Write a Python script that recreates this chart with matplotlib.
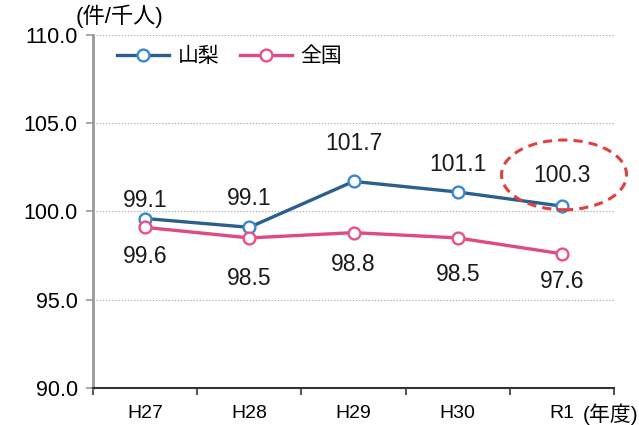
import matplotlib
matplotlib.use("Agg")
import matplotlib.pyplot as plt
from matplotlib.patches import Ellipse
import numpy as np

plt.rcParams['font.family'] = ['Liberation Sans', 'Noto Sans CJK JP', 'DejaVu Sans']

categories = ["H27", "H28", "H29", "H30", "R1"]
yamanashi = [99.6, 99.1, 101.7, 101.1, 100.3]
zenkoku = [99.1, 98.5, 98.8, 98.5, 97.6]
yamanashi_labels = ["99.1", "99.1", "101.7", "101.1", "100.3"]
zenkoku_labels = ["99.6", "98.5", "98.8", "98.5", "97.6"]
yticks = [90.0, 95.0, 100.0, 105.0, 110.0]

# label offsets in points (style)
y_off = [13, 21, 27, 20, 22]
z_off = [-21, -29, -23, -26, -20]

fig = plt.figure(figsize=(6.39, 4.25), dpi=100)
ax = fig.add_axes([0.1455, 0.087, 0.8155, 0.831])

x = np.arange(len(categories))
blue_line = "#2b5f8e"
blue_mk = "#3a86d0"
pink_line = "#e04a84"
pink_mk = "#e8508a"

ax.plot(x, yamanashi, color=blue_line, lw=2.4, marker='o', ms=8.5,
        mfc='white', mec=blue_mk, mew=1.7, label="山梨", zorder=3)
ax.plot(x, zenkoku, color=pink_line, lw=2.4, marker='o', ms=8.5,
        mfc='white', mec=pink_mk, mew=1.7, label="全国", zorder=3)

for xi, v, t, o in zip(x, yamanashi, yamanashi_labels, y_off):
    ax.annotate(t, (xi, v), xytext=(0, o), textcoords='offset points',
                ha='center', va='center', fontsize=16.5, color='#1a1a1a')
for xi, v, t, o in zip(x, zenkoku, zenkoku_labels, z_off):
    ax.annotate(t, (xi, v), xytext=(0, o), textcoords='offset points',
                ha='center', va='center', fontsize=16.5, color='#1a1a1a')

ell = Ellipse((4.02, 102.07), 1.2, 3.95, fill=False, edgecolor='#e04040',
              lw=2.2, ls=(0, (3, 2)), clip_on=False, zorder=4)
ax.add_patch(ell)

ax.set_xlim(-0.5, 4.5)
ax.set_ylim(90, 110)
ax.set_yticks(yticks)
ax.set_yticklabels([f"{v:.1f}" for v in yticks], fontsize=15.5)
ax.set_xticks(x)
ax.set_xticklabels(categories, fontsize=14)
ax.set_xticks(np.arange(-0.5, 5.0, 1.0), minor=True)
ax.tick_params(axis='x', which='major', length=0, pad=12)
ax.tick_params(axis='x', which='minor', length=5, color='#333333', width=1.2)
ax.tick_params(axis='y', length=5, pad=6, color='#999999', width=1.2)

for yv in yticks[1:]:
    ax.axhline(yv, color='#aaaaaa', lw=0.9, ls=(0, (1, 1.5)), zorder=1)

for s in ['top', 'right']:
    ax.spines[s].set_visible(False)
ax.spines['left'].set_color('#999999')
ax.spines['left'].set_linewidth(2)
ax.spines['bottom'].set_color('#333333')
ax.spines['bottom'].set_linewidth(1.5)

leg = ax.legend(loc='upper left', bbox_to_anchor=(0.01, 1.02), ncol=2, frameon=False,
                fontsize=15, handlelength=2.5, columnspacing=1.0, handletextpad=0.4)

fig.text(0.118, 0.962, "(件/千人)", fontsize=16, ha='left', va='center')
fig.text(0.912, 0.025, "(年度)", fontsize=15, ha='left', va='center')

fig.savefig("out.png", dpi=100)
